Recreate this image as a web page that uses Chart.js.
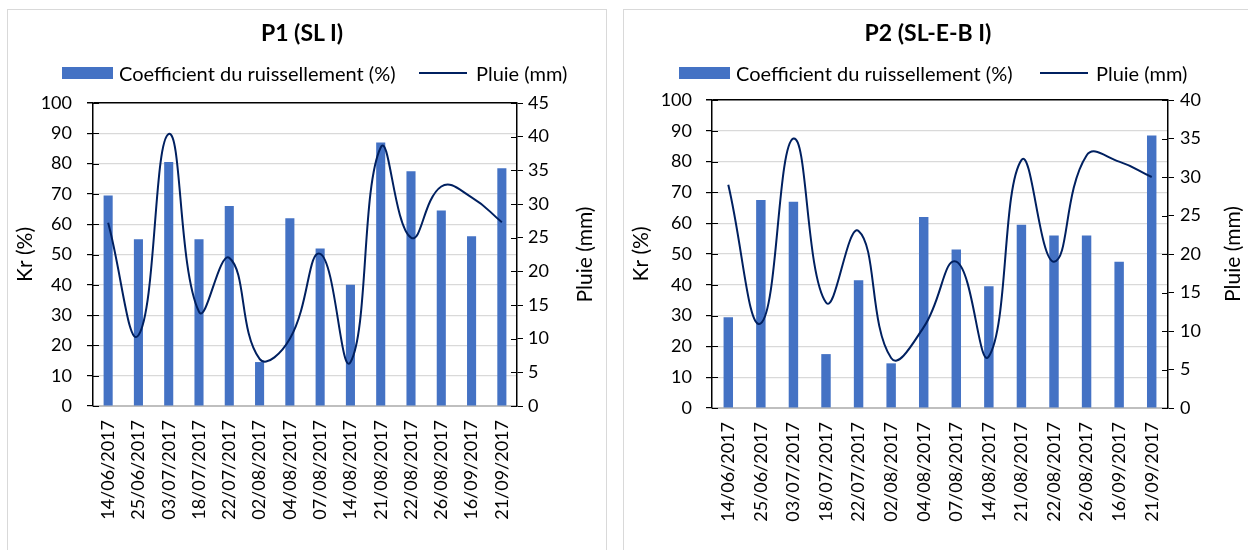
<!DOCTYPE html>
<html lang="fr">
  <head>
    <meta charset="UTF-8" />
    <title>Kr et Pluie</title>
    <style>
      body {
        margin: 0;
        background: #ffffff;
        width: 1248px;
        height: 550px;
        overflow: hidden;
        position: relative;
        font-family: Lato, sans-serif;
        color: #000;
      }
      .panel {
        position: absolute;
        top: 9px;
        border: 1px solid #d9d9d9;
        background: #fff;
      }
      #panel1 { left: 7px; width: 598px; height: 550px; }
      #panel2 { left: 623px; width: 630px; height: 550px; }
      canvas { display: block; }
      .title {
        position: absolute;
        top: 18px;
        width: 240px;
        text-align: center;
        font-size: 23px;
        line-height: 28px;
        font-weight: bold;
      }
      .lg-box { position: absolute; width: 51px; height: 12px; top: 67px; background: #4472c4; }
      .lg-line { position: absolute; width: 48px; height: 2px; top: 72px; background: #002060; }
      .lg-text { position: absolute; top: 63px; font-size: 20px; line-height: 20px; white-space: nowrap; }
    </style>
  </head>
  <body>
    <div class="panel" id="panel1"><canvas id="chart1" width="598" height="540"></canvas></div>
    <div class="panel" id="panel2"><canvas id="chart2" width="630" height="540"></canvas></div>

    <!-- titles and legends -->
    <div class="title" style="left: 182px">P1 (SL I)</div>
    <div class="lg-box" style="left: 62px"></div>
    <div class="lg-text" id="lgBar1" style="left: 119px"></div>
    <div class="lg-line" style="left: 419px"></div>
    <div class="lg-text" id="lgLine1" style="left: 476px"></div>

    <div class="title" style="left: 808px">P2 (SL-E-B I)</div>
    <div class="lg-box" style="left: 679px"></div>
    <div class="lg-text" id="lgBar2" style="left: 736px"></div>
    <div class="lg-line" style="left: 1040px"></div>
    <div class="lg-text" id="lgLine2" style="left: 1096px"></div>

    <script src="https://cdn.jsdelivr.net/npm/chart.js"></script>
    <script>
      const dates = [
        "14/06/2017", "25/06/2017", "03/07/2017", "18/07/2017", "22/07/2017",
        "02/08/2017", "04/08/2017", "07/08/2017", "14/08/2017", "21/08/2017",
        "22/08/2017", "26/08/2017", "16/09/2017", "21/09/2017",
      ];

      const barLabel = "Coefficient du ruissellement (%)";
      const lineLabel = "Pluie (mm)";

      // P1 (SL I)
      const p1Kr = [69.5, 55, 80.5, 55, 66, 14.5, 62, 52, 40, 87, 77.5, 64.5, 56, 78.5];
      const p1Pluie = [27.2, 10.5, 40.4, 14, 22, 7, 10, 22.6, 6.5, 38.4, 25, 32.6, 31, 27.3];

      // P2 (SL-E-B I)
      const p2Kr = [29.5, 67.5, 67, 17.5, 41.5, 14.5, 62, 51.5, 39.5, 59.5, 56, 56, 47.5, 88.5];
      const p2Pluie = [29, 11, 35, 13.7, 23, 6.5, 10.5, 19, 6.7, 32.2, 19, 32.8, 32, 30];

      const krMax = 100;
      const p1PluieMax = 45;
      const p2PluieMax = 40;

      ["lgBar1", "lgBar2"].forEach((id) => (document.getElementById(id).textContent = barLabel));
      ["lgLine1", "lgLine2"].forEach((id) => (document.getElementById(id).textContent = lineLabel));

      Chart.defaults.font.family = "Lato, sans-serif";
      Chart.defaults.color = "#000";

      const barColor = "#4472c4";
      const lineColor = "#002060";

      // tick marks crossing the y axes + right axis title read bottom to top
      const excelAxes = {
        id: "excelAxes",
        afterDraw(chart, args, opts) {
          const ctx = chart.ctx;
          const area = chart.chartArea;
          ctx.save();
          ctx.strokeStyle = "#000";
          ctx.lineWidth = 1;
          ["y", "y1"].forEach((id) => {
            const s = chart.scales[id];
            const x = id === "y" ? s.right : s.left;
            const dir = id === "y" ? 1 : -1;
            s.ticks.forEach((t, i) => {
              const py = Math.round(s.getPixelForTick(i)) + 0.5;
              ctx.beginPath();
              ctx.moveTo(x, py);
              ctx.lineTo(x + dir * 6, py);
              ctx.stroke();
            });
          });
          ctx.translate(chart.scales.y1.left + opts.titleOffset, (area.top + area.bottom) / 2);
          ctx.rotate(-Math.PI / 2);
          ctx.font = "21px Lato, sans-serif";
          ctx.fillStyle = "#000";
          ctx.textAlign = "center";
          ctx.textBaseline = "middle";
          ctx.fillText(lineLabel, 0, 0);
          ctx.restore();
        },
      };

      function makeChart(canvasId, kr, pluie, pluieMax, o) {
        return new Chart(document.getElementById(canvasId), {
          type: "bar",
          data: {
            labels: dates,
            datasets: [
              {
                label: barLabel,
                data: kr,
                backgroundColor: barColor,
                borderWidth: 0,
                barPercentage: o.barPct,
                categoryPercentage: 1,
                yAxisID: "y",
                order: 2,
              },
              {
                type: "line",
                label: lineLabel,
                data: pluie,
                borderColor: lineColor,
                borderWidth: 2,
                pointRadius: 0,
                tension: 0.45,
                fill: false,
                yAxisID: "y1",
                order: 1,
              },
            ],
          },
          options: {
            responsive: false,
            animation: false,
            layout: { padding: { left: 0, right: 0, top: o.top, bottom: 0 } },
            plugins: {
              title: { display: false },
              legend: { display: false },
              tooltip: { enabled: false },
              excelAxes: { titleOffset: o.titleOffset },
            },
            scales: {
              x: {
                afterFit: (s) => (s.height = o.xHeight),
                grid: { display: false, drawTicks: false },
                border: { color: "#bfbfbf", width: 2 },
                ticks: { minRotation: 90, maxRotation: 90, font: { size: 18 }, padding: 14 },
              },
              y: {
                position: "left",
                min: 0,
                max: krMax,
                afterFit: (s) => (s.width = o.yWidth),
                ticks: { stepSize: 10, font: { size: 18 }, padding: o.yPad },
                grid: {
                  color: (c) => (c.tick && c.tick.value === krMax ? "#000" : "#d9d9d9"),
                  lineWidth: (c) => (c.tick && c.tick.value === krMax ? 1.5 : 1.2),
                  tickColor: "#000",
                  tickLength: 6,
                },
                border: { color: "#000", width: 1.5 },
                title: {
                  display: true,
                  text: "Kr (%)",
                  font: { size: 21 },
                  padding: { top: 5, bottom: 0 },
                },
              },
              y1: {
                position: "right",
                min: 0,
                max: pluieMax,
                afterFit: (s) => (s.width = o.y1Width),
                ticks: { stepSize: 5, font: { size: 18 }, padding: o.y1Pad },
                grid: { drawOnChartArea: false, tickColor: "#000", tickLength: 6 },
                border: { color: "#000", width: 1.5 },
              },
            },
          },
          plugins: [excelAxes],
        });
      }

      makeChart("chart1", p1Kr, p1Pluie, p1PluieMax, {
        top: 93, xHeight: 144, yWidth: 85, y1Width: 89,
        yPad: 15, y1Pad: 5, titleOffset: 68, barPct: 0.3,
      });
      makeChart("chart2", p2Kr, p2Pluie, p2PluieMax, {
        top: 90, xHeight: 142, yWidth: 88, y1Width: 86,
        yPad: 14, y1Pad: 6, titleOffset: 65, barPct: 0.29,
      });
    </script>
  </body>
</html>
